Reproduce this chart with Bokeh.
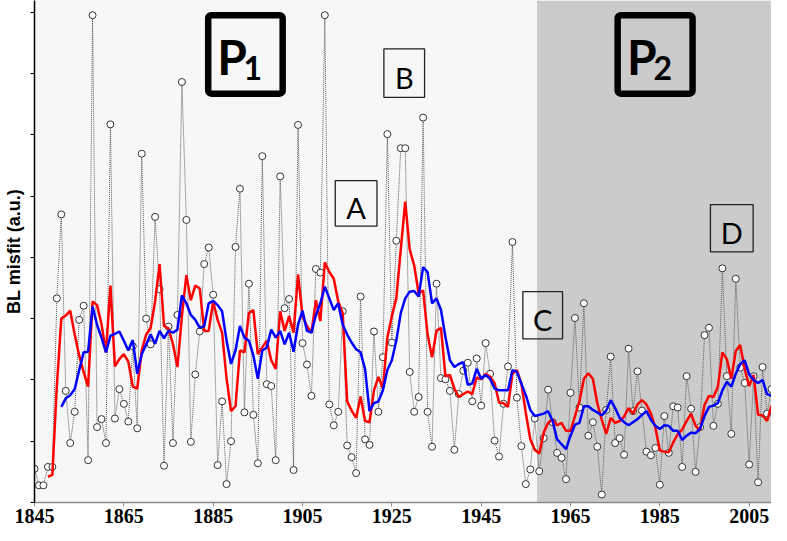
from bokeh.plotting import figure
from bokeh.models import BoxAnnotation, Label, FixedTicker, Range1d
from bokeh.embed import file_html
from bokeh.resources import INLINE

# ---------------- data ----------------
years = list(range(1845, 2011))
black = [
    0.55, 0.28, 0.28, 0.58, 0.58, 3.33, 4.70, 1.82, 0.97, 1.48,   # 1845-1854
    2.98, 3.21, 0.69, 7.95, 1.23, 1.36, 0.97, 6.17, 1.37, 1.85,   # 1855-1864
    1.61, 1.32, 2.55, 1.21, 5.69, 3.00, 2.58, 4.66, 3.48, 0.60,   # 1865-1874
    2.87, 0.97, 3.06, 6.86, 4.61, 0.99, 2.09, 2.79, 3.89, 4.16,   # 1875-1884
    3.39, 0.61, 1.65, 0.30, 1.00, 4.17, 5.12, 1.47, 3.57, 1.43,   # 1885-1894
    0.64, 5.65, 1.93, 1.90, 0.69, 5.32, 3.17, 3.32, 0.53, 6.16,   # 1895-1904
    2.60, 2.25, 1.74, 3.81, 3.75, 7.95, 1.60, 1.26, 1.48, 3.12,   # 1905-1914
    0.93, 0.74, 0.48, 3.36, 1.03, 0.94, 2.79, 1.48, 2.37, 6.01,   # 1915-1924
    2.61, 4.27, 5.78, 5.78, 2.13, 1.48, 1.72, 6.28, 1.48, 0.91,   # 1925-1934
    3.57, 2.03, 2.01, 1.82, 0.86, 1.77, 2.15, 2.28, 1.65, 2.35,   # 1935-1944
    1.58, 2.60, 2.10, 1.01, 0.75, 1.61, 2.22, 4.25, 1.71, 0.92,   # 1945-1954
    0.30, 0.54, 1.37, 0.51, 1.05, 1.84, 1.31, 0.81, 0.73, 0.38,   # 1955-1964
    1.79, 3.01, 1.55, 3.25, 1.09, 1.31, 0.91, 0.13, 1.51, 2.38,   # 1965-1974
    0.97, 1.05, 0.78, 2.51, 1.49, 2.14, 1.50, 0.83, 0.77, 0.89,   # 1975-1984
    0.29, 1.41, 0.81, 1.57, 1.55, 0.58, 2.06, 1.53, 0.50, 1.23,   # 1985-1994
    2.73, 2.85, 1.25, 1.61, 3.82, 2.06, 1.12, 3.65, 2.20, 1.95,   # 1995-2004
    0.62, 2.06, 0.33, 2.21, 1.45, 1.85,                           # 2005-2010
]

red_years = list(range(1848, 2011))
red = [
    0.42, 0.45, 1.90, 3.00, 3.05, 3.13, 2.74, 2.40, 2.13, 1.89,   # 1848-1857
    3.28, 3.22, 2.91, 2.45, 3.54, 2.22, 2.34, 2.42, 2.30, 1.89,   # 1858-1867
    1.86, 2.48, 2.74, 2.85, 3.28, 3.89, 2.88, 2.84, 2.58, 2.21,   # 1868-1877
    3.04, 3.71, 3.30, 3.54, 3.49, 2.80, 2.80, 3.28, 2.98, 2.77,   # 1878-1887
    2.02, 1.49, 1.57, 2.48, 2.45, 3.09, 3.14, 2.42, 2.53, 2.64,   # 1888-1897
    2.32, 2.18, 3.12, 2.80, 3.04, 2.77, 3.72, 3.04, 2.88, 2.77,   # 1898-1907
    3.30, 2.96, 3.92, 3.76, 3.65, 3.28, 3.09, 1.65, 1.50, 1.38,   # 1908-1917
    1.73, 1.33, 1.31, 1.83, 2.05, 1.86, 2.69, 3.04, 3.33, 4.13,   # 1918-1927
    4.91, 4.13, 3.87, 3.41, 3.46, 2.74, 2.37, 2.80, 2.85, 2.06,   # 1928-1937
    2.08, 1.86, 1.72, 1.77, 1.81, 1.77, 2.04, 2.01, 2.10, 2.05,   # 1938-1947
    1.95, 1.63, 1.62, 1.56, 2.10, 2.16, 1.94, 1.46, 1.03, 0.86,   # 1948-1957
    0.80, 1.14, 1.30, 1.35, 1.26, 1.30, 1.17, 1.17, 1.41, 1.65,   # 1958-1967
    2.02, 2.11, 2.02, 1.62, 1.35, 1.12, 1.38, 1.30, 1.33, 1.40,   # 1968-1977
    1.54, 1.45, 1.60, 1.67, 1.60, 1.45, 1.22, 0.85, 0.83, 0.82,   # 1978-1987
    0.98, 1.11, 1.19, 1.33, 1.45, 1.25, 1.18, 1.59, 1.74, 1.72,   # 1988-1997
    1.89, 2.45, 2.34, 2.02, 2.47, 2.57, 2.18, 1.90, 2.08, 1.43,   # 1998-2007
    1.42, 1.33, 1.58,                                             # 2008-2010
]

blue_years = list(range(1851, 2011))
blue = [
    1.56, 1.70, 1.75, 1.85, 2.16, 2.45, 2.46, 3.20, 2.90, 2.69,   # 1851-1860
    2.45, 2.72, 2.75, 2.79, 2.64, 2.48, 2.65, 2.10, 2.42, 2.58,   # 1861-1870
    2.74, 2.59, 2.80, 2.68, 2.80, 2.77, 2.82, 3.38, 3.25, 3.06,   # 1871-1880
    2.98, 2.85, 2.88, 3.25, 3.29, 3.22, 3.12, 2.64, 2.26, 2.48,   # 1881-1890
    2.88, 2.69, 2.64, 2.40, 2.02, 2.48, 2.53, 2.82, 2.69, 2.80,   # 1891-1900
    2.58, 2.77, 2.46, 2.90, 3.13, 2.80, 2.77, 3.06, 3.25, 3.52,   # 1901-1910
    3.33, 3.14, 3.25, 2.90, 2.74, 2.61, 2.50, 2.45, 2.18, 1.49,   # 1911-1920
    1.62, 1.65, 1.83, 2.16, 2.32, 2.64, 3.09, 3.33, 3.44, 3.45,   # 1921-1930
    3.36, 3.84, 3.76, 3.25, 3.33, 3.14, 2.70, 2.32, 2.21, 2.26,   # 1931-1940
    2.29, 1.92, 1.94, 2.18, 2.02, 2.08, 2.02, 1.86, 1.83, 1.83,   # 1941-1950
    1.83, 2.16, 2.13, 1.94, 1.75, 1.51, 1.41, 1.43, 1.45, 1.49,   # 1951-1960
    1.33, 1.03, 0.95, 0.87, 1.09, 1.27, 1.30, 1.57, 1.57, 1.51,   # 1961-1970
    1.47, 1.42, 1.50, 1.67, 1.54, 1.38, 1.31, 1.26, 1.31, 1.36,   # 1971-1980
    1.43, 1.49, 1.35, 1.25, 1.20, 1.26, 1.25, 1.17, 1.17, 1.02,   # 1981-1990
    1.09, 1.14, 1.13, 1.20, 1.41, 1.56, 1.58, 1.62, 1.83, 1.97,   # 1991-2000
    1.89, 2.10, 2.26, 2.32, 2.09, 2.00, 1.95, 2.00, 1.77, 1.74,   # 2001-2010
]

x_ticks = [1845, 1865, 1885, 1905, 1925, 1945, 1965, 1985, 2005]
y_ticks = [0, 1, 2, 3, 4, 5, 6, 7, 8]
period2_start = 1957.5

# ---------------- figure ----------------
p = figure(width=771, height=525, output_backend="svg", toolbar_location=None,
           x_range=Range1d(1845, 2010), y_range=Range1d(0, 8.19),
           min_border_left=32, min_border_right=0, min_border_top=0,
           min_border_bottom=0)
p.background_fill_color = "#f7f7f7"
p.border_fill_color = "white"
p.outline_line_color = None
p.xgrid.visible = False
p.ygrid.visible = False

p.add_layout(BoxAnnotation(left=period2_start, fill_color="#cbcbcb",
                           fill_alpha=1.0, line_color=None, level="underlay"))

# x axis
p.xaxis.ticker = FixedTicker(ticks=x_ticks)
p.xaxis.major_label_text_font = "Liberation Sans Narrow"
p.xaxis.major_label_text_font_style = "bold"
p.xaxis.major_label_text_font_size = "20px"
p.xaxis.major_label_text_color = "black"
p.xaxis.major_label_standoff = 2
p.xaxis.axis_line_color = "#8a8a8a"
p.xaxis.axis_line_width = 1.5
p.xaxis.major_tick_line_color = "#8a8a8a"
p.xaxis.major_tick_in = 0
p.xaxis.major_tick_out = 4
p.xaxis.minor_tick_line_color = None

# y axis (ticks without numbers)
p.yaxis.ticker = FixedTicker(ticks=y_ticks)
p.yaxis.major_label_text_color = None
p.yaxis.major_label_text_font_size = "1px"
p.yaxis.major_label_standoff = 0
p.yaxis.axis_label = "BL misfit (a.u.)"
p.yaxis.axis_label_text_font = "Liberation Sans"
p.yaxis.axis_label_text_font_style = "bold"
p.yaxis.axis_label_text_font_size = "18px"
p.yaxis.axis_label_text_color = "black"
p.yaxis.axis_label_standoff = 7
p.yaxis.axis_line_color = "black"
p.yaxis.axis_line_width = 1.5
p.yaxis.major_tick_line_color = "black"
p.yaxis.major_tick_in = 0
p.yaxis.major_tick_out = 4
p.yaxis.minor_tick_line_color = None

# ---------------- series ----------------
p.line(years, black, line_color="#5a5a5a", line_width=1, line_dash="1 1")
p.scatter(years, black, size=7, fill_color="white", line_color="#333333",
          line_width=1)
p.line(red_years, red, line_color="#ff0000", line_width=2.5)
p.line(blue_years, blue, line_color="#0000ff", line_width=2.5)

# ---------------- annotation boxes ----------------
thin_boxes = [
    ("A", 1912.33, 1921.67, 5.25, 4.51, 1917.0, 4.81),
    ("B", 1923.22, 1932.33, 7.40, 6.61, 1927.78, 6.93),
    ("C", 1954.33, 1963.22, 3.44, 2.67, 1958.78, 2.98),
    ("D", 1996.33, 2005.89, 4.86, 4.09, 2001.11, 4.41),
]
for txt, l, r, t, b, cx, by in thin_boxes:
    p.add_layout(BoxAnnotation(left=l, right=r, top=t, bottom=b,
                               fill_color=None, fill_alpha=0,
                               line_color="#222222", line_width=1.3,
                               line_alpha=1.0))
    p.add_layout(Label(x=cx, y=by, text=txt, text_font="Lato",
                       text_font_size="29px", text_color="black",
                       text_align="center", text_baseline="alphabetic"))

thick_boxes = [
    ("1", 1883.89, 1900.56, 1889.22, 1893.89),
    ("2", 1975.56, 1992.33, 1981.0, 1985.67),
]
for sub, l, r, px, sx in thick_boxes:
    p.add_layout(BoxAnnotation(left=l, right=r, top=7.95, bottom=6.67,
                               fill_color=None, fill_alpha=0,
                               line_color="black", line_alpha=1.0,
                               line_width=6.5, border_radius=3))
    p.add_layout(Label(x=px, y=7.28, text="P", text_font="Lato",
                       text_font_style="bold", text_font_size="48px",
                       text_color="black", text_align="center",
                       text_baseline="alphabetic"))
    p.add_layout(Label(x=sx, y=7.09, text=sub, text_font="Lato",
                       text_font_style="bold", text_font_size="32px",
                       text_color="black", text_align="center",
                       text_baseline="alphabetic"))

open("out.html", "w").write(file_html(p, INLINE))
